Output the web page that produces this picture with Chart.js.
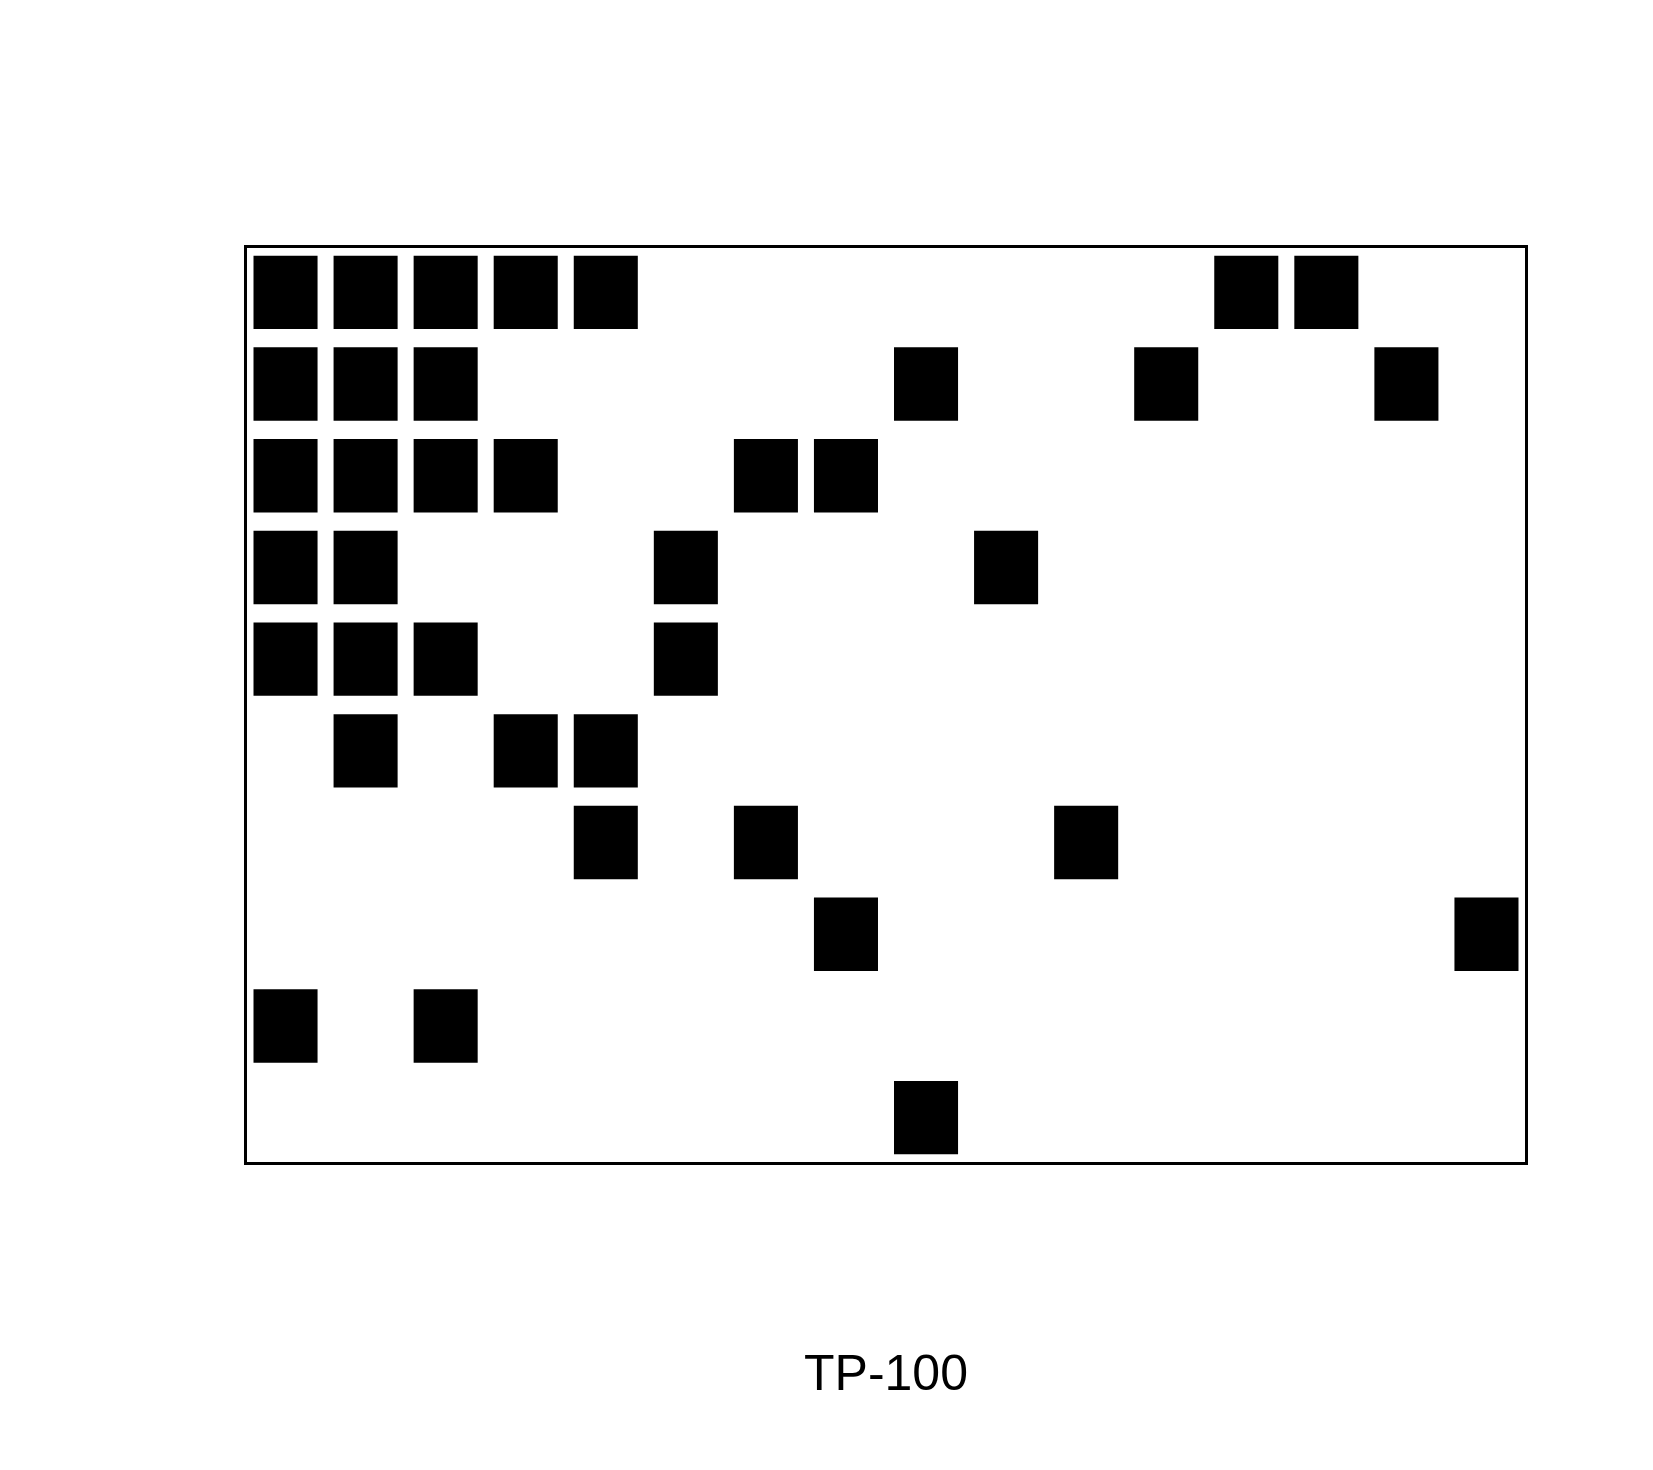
<!DOCTYPE html>
<html>
<head>
<meta charset="utf-8">
<script src="https://cdn.jsdelivr.net/npm/chart.js@4"></script>
<style>html,body{margin:0;padding:0;background:#fff;}canvas{display:block;}</style>
</head>
<body>
<canvas id="c" width="1653" height="1470"></canvas>
<script>
const columns = ["1","2","3","4","5","6","7","8","9","10","11","12","13","14","15","16"];
const rowNames = ["r1","r2","r3","r4","r5","r6","r7","r8","r9","r10"];
// filled column indices per row (top to bottom)
const row1 = [0,1,2,3,4,12,13];
const row2 = [0,1,2,8,11,14];
const row3 = [0,1,2,3,6,7];
const row4 = [0,1,5,9];
const row5 = [0,1,2,5];
const row6 = [1,3,4];
const row7 = [4,6,10];
const row8 = [7,15];
const row9 = [0,2];
const row10 = [8];
const rows = [row1,row2,row3,row4,row5,row6,row7,row8,row9,row10];
const axisTitle = "TP-100";

const nRows = rows.length;
const datasets = rows.map((cols, r) => ({
  label: rowNames[r],
  data: columns.map((_, c) => cols.includes(c) ? [nRows - 1 - r + 0.1, nRows - r - 0.1] : null),
  backgroundColor: '#000',
  borderWidth: 0,
  grouped: false,
  barPercentage: 0.8,
  categoryPercentage: 1.0
}));

const borderPlugin = {
  id: 'boxBorder',
  afterDraw(chart) {
    const a = chart.chartArea, ctx = chart.ctx;
    ctx.save();
    ctx.strokeStyle = '#000';
    ctx.lineWidth = 3;
    ctx.strokeRect(a.left, a.top, a.right - a.left, a.bottom - a.top);
    ctx.restore();
  }
};

new Chart(document.getElementById('c'), {
  type: 'bar',
  data: { labels: columns, datasets },
  options: {
    responsive: false,
    animation: false,
    layout: { padding: { left: 245.5, right: 126.5, top: 246.5, bottom: 0 } },
    scales: {
      x: { display: false, offset: true },
      y: { display: false, min: 0, max: nRows }
    },
    plugins: {
      legend: { display: false },
      tooltip: { enabled: false },
      title: {
        display: true,
        position: 'bottom',
        text: axisTitle,
        color: '#000',
        font: { family: "'Liberation Sans', Arial, sans-serif", size: 50, weight: 'normal', lineHeight: 1.2 },
        padding: { top: 182.5, bottom: 64 }
      }
    }
  },
  plugins: [borderPlugin]
});
</script>
</body>
</html>
